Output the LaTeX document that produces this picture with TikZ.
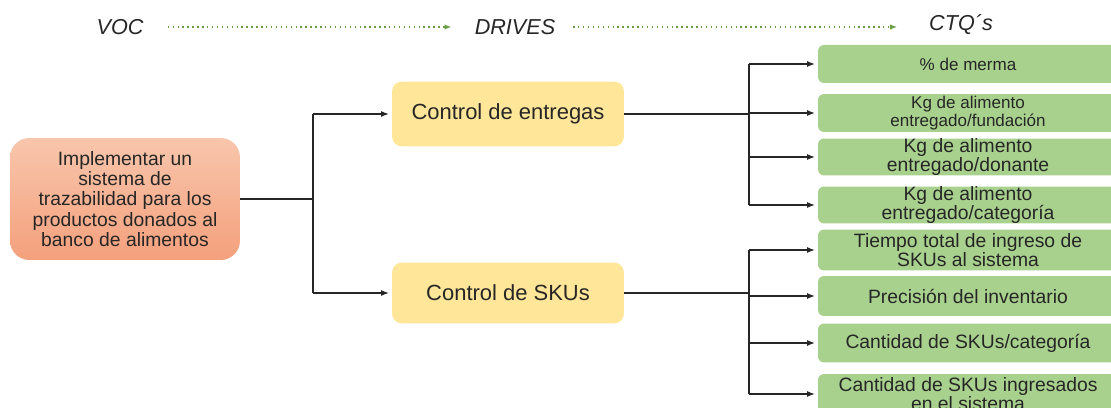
\documentclass[tikz,border=0pt]{standalone}
\usepackage{fontspec}
\setmainfont{Liberation Sans}
\usetikzlibrary{arrows.meta}

\definecolor{goaltop}{HTML}{F8C6AC}
\definecolor{goalbottom}{HTML}{F4A07C}
\definecolor{driveyellow}{HTML}{FFE699}
\definecolor{ctqgreen}{HTML}{A9D18E}
\definecolor{flowgreen}{HTML}{6A9E45}
\definecolor{inktext}{HTML}{262626}

\begin{document}
\begin{tikzpicture}[
    x=0.02cm, y=-0.02cm,
    header/.style={font=\fontsize{12.3}{14}\selectfont\itshape, text=inktext, inner sep=0pt},
    flow/.style={-{Latex[length=4pt,width=3pt]}, dotted, line width=0.8pt, color=flowgreen},
    goal/.style={rounded corners=11pt, top color=goaltop, bottom color=goalbottom, minimum width=4.6cm, minimum height=2.44cm, align=center, text=inktext, font=\fontsize{11}{11.6}\selectfont},
    drive/.style={rounded corners=5.7pt, fill=driveyellow, minimum width=4.64cm, align=center, text=inktext, font=\fontsize{12.5}{14}\selectfont},
    ctq/.style={rounded corners=3.4pt, fill=ctqgreen, minimum width=6cm, inner sep=0pt, align=center, text=inktext, font=\fontsize{11}{10.4}\selectfont},
    small/.style={font=\fontsize{9.7}{10.2}\selectfont},
    plain/.style={line width=0.75pt, color=black!85},
    link/.style={-{Latex[length=4.5pt,width=3.4pt]}, shorten >=1.5pt, line width=0.75pt, color=black!85}
]
    \clip (0,0) rectangle (1111,408);

    \node[header] (voc) at (120,27) {VOC};
    \node[header] (drives) at (515,27) {DRIVES};
    \node[header] (ctqs) at (961,25) {CTQ´s};

    \draw[flow, shorten <=13.6pt, shorten >=13pt] (voc.east) -- (drives.west);
    \draw[flow, shorten <=10pt, shorten >=18pt] (drives.east) -- (drives.east -| ctqs.west);

    \node[goal] (goal) at (125,199) {Implementar un\\sistema de\\trazabilidad para los\\productos donados al\\banco de alimentos};

    \node[drive, minimum height=1.3cm] (entregas) at (508,114) {Control de entregas};
    \node[drive, minimum height=1.22cm] (skus) at (508,293) {Control de SKUs};

    \node[ctq, small, minimum height=0.76cm] (merma) at (968,64) {\% de merma};
    \node[ctq, small, minimum height=0.76cm] (fundacion) at (968,113) {Kg de alimento\\entregado/fundación};
    \node[ctq, minimum height=0.74cm] (donante) at (968,157) {Kg de alimento\\entregado/donante};
    \node[ctq, minimum height=0.74cm] (categoria) at (968,205) {Kg de alimento\\entregado/categoría};
    \node[ctq, minimum height=0.82cm] (tiempo) at (968,250) {Tiempo total de ingreso de\\SKUs al sistema};
    \node[ctq, minimum height=0.8cm] (precision) at (968,296) {Precisión del inventario};
    \node[ctq, minimum height=0.78cm] (cantidad) at (968,343) {Cantidad de SKUs/categoría};
    \node[ctq, minimum height=0.8cm] (ingresados) at (968,394) {Cantidad de SKUs ingresados\\en el sistema};

    \coordinate (fork) at (313,199);
    \coordinate (forkA) at (749,114);
    \coordinate (forkB) at (749,293);

    \draw[plain] (goal.east) -- (fork |- goal);
    \draw[plain] (fork |- entregas) -- (fork |- skus);
    \draw[link] (fork |- entregas) -- (entregas);
    \draw[link] (fork |- skus) -- (skus);

    \draw[plain] (entregas.east) -- (forkA);
    \draw[plain] (forkA |- merma) -- (forkA |- categoria);
    \draw[link] (forkA |- merma) -- (merma);
    \draw[link] (forkA |- fundacion) -- (fundacion);
    \draw[link] (forkA |- donante) -- (donante);
    \draw[link] (forkA |- categoria) -- (categoria);

    \draw[plain] (skus.east) -- (forkB);
    \draw[plain] (forkB |- tiempo) -- (forkB |- ingresados);
    \draw[link] (forkB |- tiempo) -- (tiempo);
    \draw[link] (forkB |- precision) -- (precision);
    \draw[link] (forkB |- cantidad) -- (cantidad);
    \draw[link] (forkB |- ingresados) -- (ingresados);
\end{tikzpicture}
\end{document}
